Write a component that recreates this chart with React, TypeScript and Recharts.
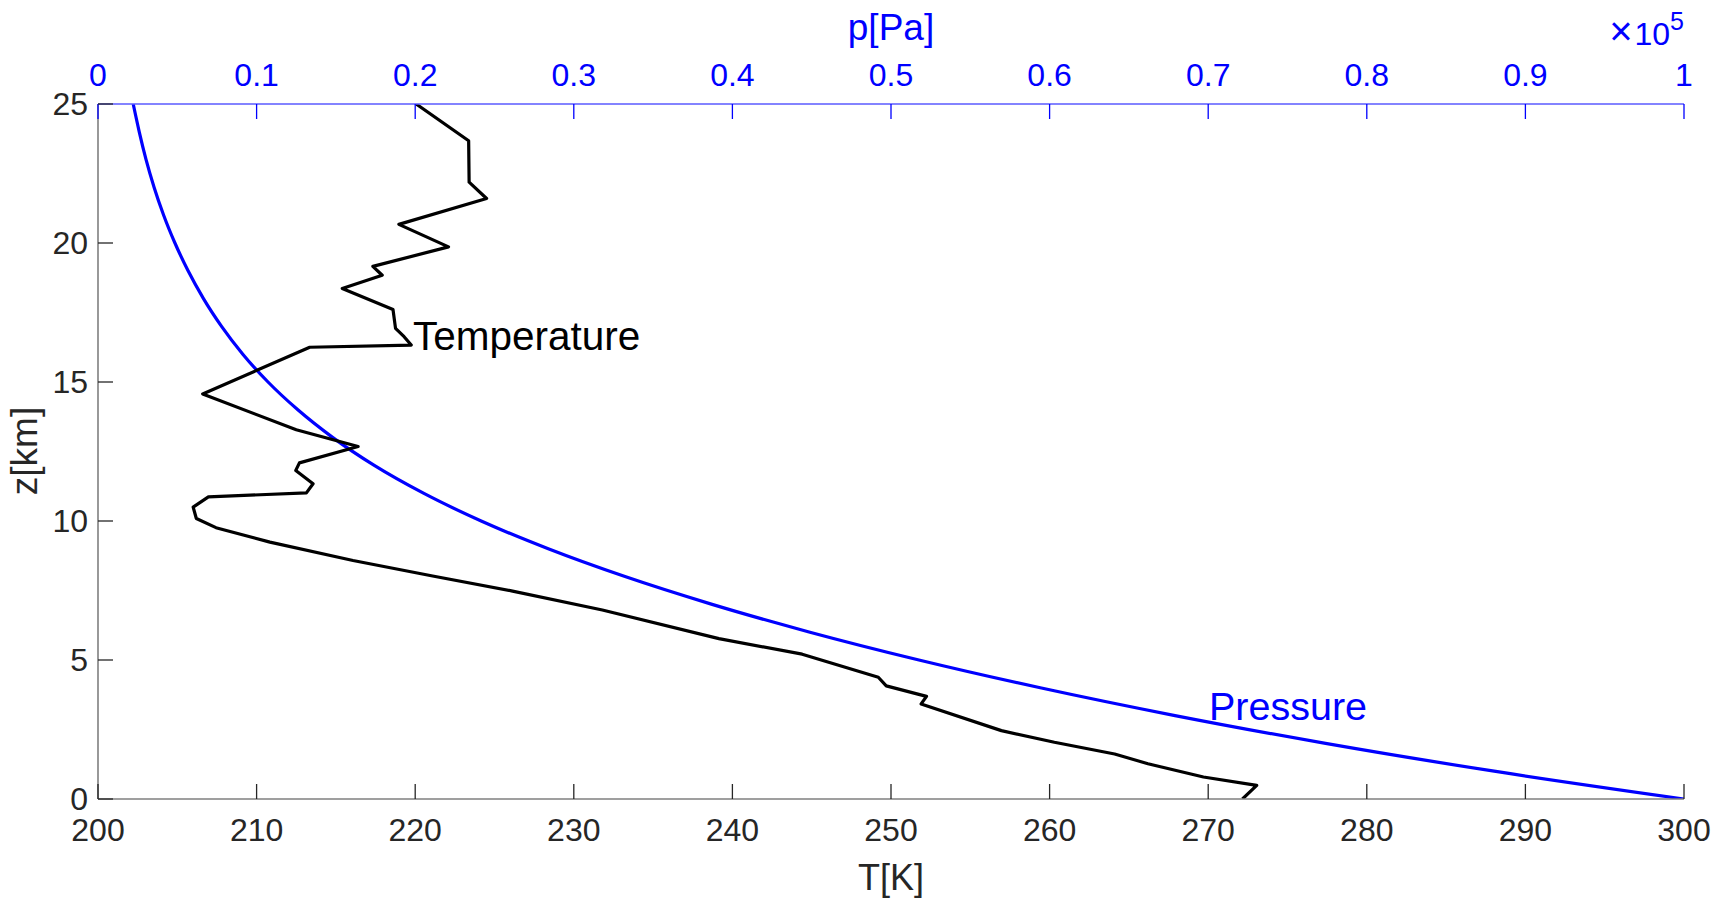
import React from 'react';
import { LineChart, Line, XAxis, YAxis } from 'recharts';

// Temperature profile: z [km], T [K]
const tempZ = [25.0, 23.68, 22.19, 21.6, 20.67, 19.86, 19.16, 18.84, 18.36, 17.61, 16.93, 16.63, 16.33, 16.25, 14.57, 13.28, 12.68, 12.09, 11.82, 11.34, 11.01, 10.87, 10.5, 10.09, 9.76, 9.24, 8.58, 8.02, 7.48, 6.8, 5.77, 5.21, 4.38, 4.07, 3.69, 3.42, 2.46, 2.04, 1.62, 1.27, 0.79, 0.49, 0.0];
const tempT = [220.06, 223.37, 223.4, 224.5, 218.97, 222.1, 217.33, 217.92, 215.4, 218.6, 218.76, 219.3, 219.75, 213.35, 206.6, 212.5, 216.4, 212.7, 212.47, 213.56, 213.14, 206.96, 206.0, 206.2, 207.44, 210.84, 216.08, 221.1, 226.14, 231.8, 239.15, 244.4, 249.2, 249.7, 252.24, 251.9, 256.96, 260.3, 264.1, 266.2, 269.7, 273.06, 272.16];

// Pressure profile: z [km], p [x10^5 Pa]
const presZ = [25, 24, 23, 22, 21, 20, 19, 18, 17, 16, 15, 14, 13, 12, 11, 10, 9, 8, 7, 6, 5, 4, 3, 2, 1, 0];
const presP = [0.0222, 0.026, 0.0303, 0.0354, 0.0414, 0.0485, 0.0568, 0.0665, 0.0779, 0.0913, 0.1072, 0.126, 0.1481, 0.1742, 0.2052, 0.2416, 0.2839, 0.3323, 0.3872, 0.4489, 0.5176, 0.5941, 0.6791, 0.774, 0.8803, 1.0];

const tTicks = [200, 210, 220, 230, 240, 250, 260, 270, 280, 290, 300];
const pTicks = [0, 0.1, 0.2, 0.3, 0.4, 0.5, 0.6, 0.7, 0.8, 0.9, 1];
const zTicks = [0, 5, 10, 15, 20, 25];

const tempData = tempZ.map((z, i) => ({ z, T: tempT[i] }));
const presData = presZ.map((z, i) => ({ z, p: presP[i] }));

const FONT = '"Liberation Sans", Arial, Helvetica, sans-serif';
const DARK = '#262626';
const BLUE = '#0000ff';
const TICK_FS = 32;

const BottomTick = (props: any) => {
  const { x, y, payload } = props;
  return (
    <g>
      <line x1={x} x2={x} y1={y} y2={y - 15} stroke={DARK} strokeWidth={1.3} />
      <text x={x} y={y + 42} textAnchor="middle" fontSize={TICK_FS} fill={DARK} fontFamily={FONT}>
        {payload.value}
      </text>
    </g>
  );
};

const TopTick = (props: any) => {
  const { x, y, payload } = props;
  return (
    <g>
      <line x1={x} x2={x} y1={y} y2={y + 15} stroke={BLUE} strokeWidth={1.3} />
      <text x={x} y={y - 18} textAnchor="middle" fontSize={TICK_FS} fill={BLUE} fontFamily={FONT}>
        {String(payload.value)}
      </text>
    </g>
  );
};

const LeftTick = (props: any) => {
  const { x, y, payload } = props;
  return (
    <g>
      <line x1={x} x2={x + 15} y1={y} y2={y} stroke={DARK} strokeWidth={1.3} />
      <text x={x - 10} y={y + 11} textAnchor="end" fontSize={TICK_FS} fill={DARK} fontFamily={FONT}>
        {payload.value}
      </text>
    </g>
  );
};

export default function App() {
  return (
    <div style={{ position: 'absolute', left: 0, top: 0, width: 1717, height: 901, background: '#fff' }}>
      <LineChart
        width={1717}
        height={901}
        margin={{ top: 54, right: 33, bottom: 52, left: 38 }}
      >
        <XAxis
          xAxisId="T"
          type="number"
          dataKey="T"
          orientation="bottom"
          domain={[200, 300]}
          ticks={tTicks}
          interval={0}
          allowDataOverflow
          height={50}
          tickSize={0}
          tickMargin={0}
          axisLine={{ stroke: '#7f7f7f', strokeWidth: 1.6 }}
          tick={<BottomTick />}
        />
        <XAxis
          xAxisId="p"
          type="number"
          dataKey="p"
          orientation="top"
          domain={[0, 1]}
          ticks={pTicks}
          interval={0}
          allowDataOverflow
          height={50}
          tickSize={0}
          tickMargin={0}
          axisLine={{ stroke: '#5a5aff', strokeWidth: 1.6 }}
          tick={<TopTick />}
        />
        <YAxis
          yAxisId="z"
          type="number"
          domain={[0, 25]}
          ticks={zTicks}
          interval={0}
          allowDataOverflow
          width={60}
          tickSize={0}
          tickMargin={0}
          axisLine={{ stroke: '#7f7f7f', strokeWidth: 1.6 }}
          tick={<LeftTick />}
        />
        <Line
          data={presData}
          xAxisId="p"
          yAxisId="z"
          dataKey="z"
          type="monotone"
          stroke={BLUE}
          strokeWidth={3.2}
          dot={false}
          activeDot={false}
          isAnimationActive={false}
        />
        <Line
          data={tempData}
          xAxisId="T"
          yAxisId="z"
          dataKey="z"
          type="linear"
          stroke="#000000"
          strokeWidth={3.2}
          strokeLinejoin="round"
          dot={false}
          activeDot={false}
          isAnimationActive={false}
        />
      </LineChart>
      <svg
        width={1717}
        height={901}
        style={{ position: 'absolute', left: 0, top: 0, pointerEvents: 'none' }}
      >
        <text x={413} y={350} fontSize={40.5} fill="#000" fontFamily={FONT}>Temperature</text>
        <text x={1209} y={720} fontSize={39.5} fill={BLUE} fontFamily={FONT}>Pressure</text>
        <text x={891} y={890} textAnchor="middle" fontSize={36} fill={DARK} fontFamily={FONT}>T[K]</text>
        <text x={891} y={40} textAnchor="middle" fontSize={37} fill={BLUE} fontFamily={FONT}>p[Pa]</text>
        <text x={37} y={451} textAnchor="middle" fontSize={37} fill={DARK} fontFamily={FONT} transform="rotate(-90 37 451)">z[km]</text>
        <text x={1684} y={45} textAnchor="end" fontSize={32} fill={BLUE} fontFamily={FONT}>
          <tspan fontSize={40}>×</tspan><tspan dx={2}>10</tspan><tspan fontSize={25} dy={-15}>5</tspan>
        </text>
      </svg>
    </div>
  );
}
